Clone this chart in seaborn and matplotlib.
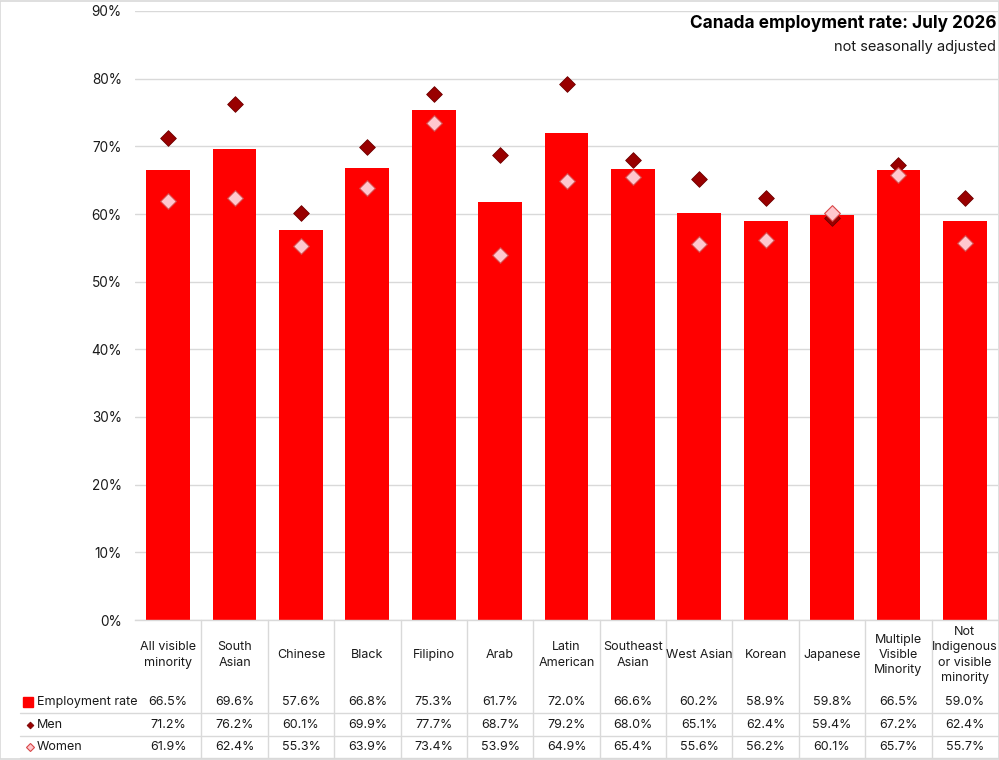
import matplotlib
matplotlib.use("Agg")
import matplotlib.pyplot as plt
import matplotlib.ticker as mticker
from matplotlib.lines import Line2D
from matplotlib.patches import Rectangle
import seaborn as sns
import pandas as pd

categories = ["All visible\nminority", "South\nAsian", "Chinese", "Black", "Filipino", "Arab",
              "Latin\nAmerican", "Southeast\nAsian", "West Asian", "Korean", "Japanese",
              "Multiple\nVisible\nMinority", "Not\nIndigenous\nor visible\nminority"]
employment = [66.5, 69.6, 57.6, 66.8, 75.3, 61.7, 72.0, 66.6, 60.2, 58.9, 59.8, 66.5, 59.0]
men = [71.2, 76.2, 60.1, 69.9, 77.7, 68.7, 79.2, 68.0, 65.1, 62.4, 59.4, 67.2, 62.4]
women = [61.9, 62.4, 55.3, 63.9, 73.4, 53.9, 64.9, 65.4, 55.6, 56.2, 60.1, 65.7, 55.7]
series_names = ["Employment rate", "Men", "Women"]
title = "Canada employment rate: July 2026"
subtitle = "not seasonally adjusted"

RED = "#FF0000"
MEN_C = "#990000"
MEN_E = "#6E0000"
WOM_C = "#FFC7CE"
WOM_E = "#D84848"
GRID = "#D9D9D9"
TXT = "#1a1a1a"

sns.set_style("white")
plt.rcParams["font.family"] = ["Inter", "DejaVu Sans"]

W, H = 999, 760
fig = plt.figure(figsize=(W / 100, H / 100), dpi=100)

def fx(px):
    return px / W

def fy(py):
    return (H - py) / H

ax = fig.add_axes([fx(135), fy(620), fx(998) - fx(135), fy(11) - fy(620)])

df = pd.DataFrame({"cat": categories, "emp": [v / 100 for v in employment],
                   "men": [v / 100 for v in men], "women": [v / 100 for v in women]})

sns.barplot(data=df, x="cat", y="emp", color=RED, saturation=1, width=0.66, ax=ax,
            order=categories, linewidth=0, zorder=2)
sns.stripplot(data=df, x="cat", y="men", order=categories, jitter=False, marker="D",
              size=8.0, color=MEN_C, edgecolor=MEN_E, linewidth=0.6, ax=ax, zorder=3)
sns.stripplot(data=df, x="cat", y="women", order=categories, jitter=False, marker="D",
              size=8.0, color=WOM_C, edgecolor=WOM_E, linewidth=0.8, ax=ax, zorder=4)

ax.set_xlim(-0.5, len(categories) - 0.5)
ax.set_ylim(0, 0.9)
ax.set_yticks([i / 10 for i in range(10)])
ax.yaxis.set_major_formatter(mticker.PercentFormatter(1.0, decimals=0))
ax.tick_params(axis="y", length=0, pad=9.5, labelsize=9.8, labelcolor=TXT)
ax.set_xticks([])
ax.set_xlabel("")
ax.set_ylabel("")
ax.grid(axis="y", color=GRID, linewidth=1, zorder=0)
ax.set_axisbelow(True)
for s in ["left", "right", "top"]:
    ax.spines[s].set_visible(False)
ax.spines["bottom"].set_color(GRID)
ax.spines["bottom"].set_linewidth(1)

# data table below the plot
xt = ax.get_xaxis_transform()
def ya(py):
    return (620 - py) / (620 - 11)

for i, c in enumerate(categories):
    ax.text(i, ya(655), c, transform=xt, ha="center", va="center", fontsize=9,
            color=TXT, linespacing=1.38, clip_on=False)
rows = [employment, men, women]
row_y = [702, 724.5, 747]
for vals, py in zip(rows, row_y):
    for i, v in enumerate(vals):
        ax.text(i, ya(py), f"{v:.1f}%", transform=xt, ha="center", va="center",
                fontsize=9, color=TXT, clip_on=False)

for k in range(len(categories) - 1):
    ax.plot([k + 0.5, k + 0.5], [ya(620), ya(758)], transform=xt, color=GRID,
            linewidth=1, clip_on=False, zorder=1)

for py in [713, 736, 758]:
    fig.add_artist(Line2D([fx(20), fx(998)], [fy(py), fy(py)], color=GRID, linewidth=1))

# legend keys
fig.add_artist(Line2D([fx(28)], [fy(702)], marker="s", markersize=6.5, color=RED,
                      linestyle="none"))
fig.add_artist(Line2D([fx(30)], [fy(724.5)], marker="D", markersize=3.5, color=MEN_C,
                      markeredgecolor=MEN_E, markeredgewidth=0.5, linestyle="none"))
fig.add_artist(Line2D([fx(30)], [fy(747)], marker="D", markersize=3.8, color=WOM_C,
                      markeredgecolor=WOM_E, markeredgewidth=0.8, linestyle="none"))
for name, py in zip(series_names, row_y):
    fig.text(fx(37), fy(py), name, ha="left", va="center", fontsize=9, color=TXT)

# title
fig.text(fx(996), fy(24), title, ha="right", va="center", fontsize=12.4,
         fontweight="bold", color="black")
fig.text(fx(996), fy(47), subtitle, ha="right", va="center", fontsize=10.5, color=TXT)

# chart border
fig.add_artist(Rectangle((0.0005, 0.0007), 0.999, 0.9986, transform=fig.transFigure,
                         fill=False, edgecolor=GRID, linewidth=1.2))

fig.savefig("out.png", dpi=100)
